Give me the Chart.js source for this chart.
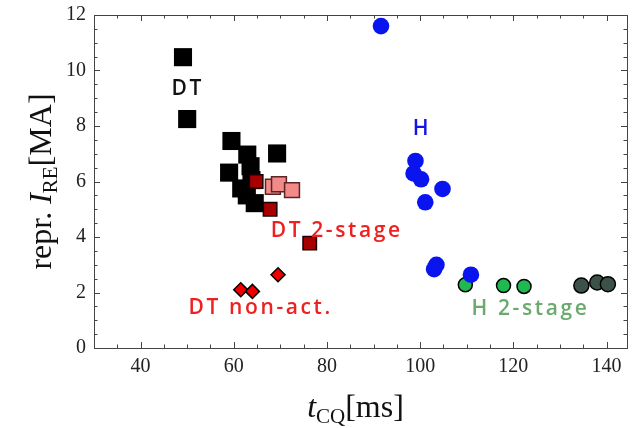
<!DOCTYPE html>
<html>
<head>
<meta charset="utf-8">
<script src="https://cdn.jsdelivr.net/npm/chart.js@4/dist/chart.umd.min.js"></script>
<style>
  html, body { margin: 0; padding: 0; background: #fff; }
  #wrap { width: 633px; height: 428px; }
</style>
</head>
<body>
<div id="wrap"><canvas id="c" width="633" height="428"></canvas></div>
<script>
// Current-quench time t_CQ [ms] vs. representative runaway current I_RE [MA]
const dtX = [49.1, 50.0, 59.5, 62.9, 63.6, 59.0, 63.8, 61.6, 62.8, 64.5, 69.3];
const dtY = [10.48, 8.25, 7.46, 6.97, 6.55, 6.32, 6.05, 5.75, 5.5, 5.22, 7.01];

const dt2X = [64.8, 67.8, 76.3];
const dt2Y = [6.0, 5.0, 3.78];

const dt2LightX = [68.4, 69.7, 72.5];
const dt2LightY = [5.81, 5.9, 5.69];

const dtNonX = [61.5, 64.0, 69.5];
const dtNonY = [2.1, 2.04, 2.64];

const hX = [91.6, 99.0, 98.6, 100.2, 104.8, 101.1, 103.5, 103.0, 110.9];
const hY = [11.6, 6.74, 6.29, 6.08, 5.73, 5.25, 3.0, 2.84, 2.64];

const h2X = [109.7, 117.9, 122.3];
const h2Y = [2.28, 2.25, 2.22];

const h2DarkX = [134.6, 138.0, 140.3];
const h2DarkY = [2.25, 2.36, 2.30];

const xTicks = [40, 60, 80, 100, 120, 140];
const yTicks = [0, 2, 4, 6, 8, 10, 12];

// Group labels placed in data coordinates
const groupLabels = [
  { text: 'DT',          x: 49.85, y: 9.35, color: '#111111' },
  { text: 'H',           x: 100.1, y: 7.9,  color: '#1414e6' },
  { text: 'DT 2-stage',  x: 81.8,  y: 4.22, color: '#ee2020' },
  { text: 'DT non-act.', x: 65.5,  y: 1.45, color: '#ee2020' },
  { text: 'H 2-stage',   x: 123.4, y: 1.41, color: '#6aaa6e' }
];

const pts = (xs, ys) => xs.map((x, i) => ({ x, y: ys[i] }));

const SERIF = '"Liberation Serif", "DejaVu Serif", serif';
const SANS = '"Open Sans", "Lato", sans-serif';

const framePlugin = {
  id: 'frameAndTitles',
  afterDraw(chart) {
    const ctx = chart.ctx;
    const a = chart.chartArea;
    const xs = chart.scales.x, ys = chart.scales.y;
    ctx.save();
    ctx.strokeStyle = '#444';
    ctx.lineWidth = 1;
    ctx.strokeRect(Math.round(a.left) + 0.5, Math.round(a.top) + 0.5,
                   Math.round(a.right - a.left), Math.round(a.bottom - a.top));
    // inward ticks on all four sides
    ctx.beginPath();
    for (let v = 35; v <= xs.max; v += 5) {
      const px = Math.round(xs.getPixelForValue(v)) + 0.5;
      const len = xTicks.includes(v) ? 6 : 3.5;
      ctx.moveTo(px, a.bottom); ctx.lineTo(px, a.bottom - len);
      ctx.moveTo(px, a.top); ctx.lineTo(px, a.top + len);
    }
    for (let v = 0.5; v < ys.max; v += 0.5) {
      const py = Math.round(ys.getPixelForValue(v)) + 0.5;
      const len = yTicks.includes(v) ? 6 : 3.5;
      ctx.moveTo(a.left, py); ctx.lineTo(a.left + len, py);
      ctx.moveTo(a.right, py); ctx.lineTo(a.right - len, py);
    }
    ctx.stroke();

    // group labels
    ctx.textAlign = 'center';
    ctx.textBaseline = 'middle';
    ctx.font = '600 21px ' + SANS;
    ctx.letterSpacing = '2.6px';
    groupLabels.forEach(l => {
      ctx.fillStyle = l.color;
      ctx.fillText(l.text, xs.getPixelForValue(l.x) + 1.3, ys.getPixelForValue(l.y));
    });
    ctx.letterSpacing = '0px';

    // axis titles with subscripts
    const drawRuns = (runs, cx, cy) => {
      let w = 0;
      runs.forEach(r => { ctx.font = r.font; w += ctx.measureText(r.t).width; });
      let x = cx - w / 2;
      ctx.textAlign = 'left';
      ctx.textBaseline = 'alphabetic';
      ctx.fillStyle = '#111';
      runs.forEach(r => {
        ctx.font = r.font;
        ctx.fillText(r.t, x, cy + (r.dy || 0));
        x += ctx.measureText(r.t).width;
      });
    };
    const big = '32px ' + SERIF, bigI = 'italic 32px ' + SERIF, sub = '21px ' + SERIF;
    drawRuns([
      { t: 't', font: bigI },
      { t: 'CQ', font: sub, dy: 6 },
      { t: '[ms]', font: big }
    ], (a.left + a.right) / 2 - 5, 417);

    ctx.translate(51, (a.top + a.bottom) / 2);
    ctx.rotate(-Math.PI / 2);
    drawRuns([
      { t: 'repr. ', font: big },
      { t: 'I', font: bigI },
      { t: 'RE', font: sub, dy: 6 },
      { t: '[MA]', font: big }
    ], 0, 0);
    ctx.restore();
  }
};

const noPad = s => { s.paddingLeft = 0; s.paddingRight = 0; s.paddingTop = 0; s.paddingBottom = 0; };

new Chart(document.getElementById('c'), {
  type: 'scatter',
  data: {
    datasets: [
      { label: 'DT 2-stage', data: pts(dt2X, dt2Y), pointStyle: 'rect', pointRadius: 9.5,
        backgroundColor: '#a80000', borderColor: '#1a0000', borderWidth: 1.5 },
      { label: 'DT 2-stage (b)', data: pts(dt2LightX, dt2LightY), pointStyle: 'rect', pointRadius: 10.5,
        backgroundColor: '#f28a8a', borderColor: '#5a2525', borderWidth: 1.5 },
      { label: 'DT', data: pts(dtX, dtY), pointStyle: 'rect', pointRadius: 12.8,
        backgroundColor: '#000000', borderColor: '#000000', borderWidth: 0 },
      { label: 'DT non-act.', data: pts(dtNonX, dtNonY), pointStyle: 'rectRot', pointRadius: 7,
        backgroundColor: '#ee0000', borderColor: '#000000', borderWidth: 1.5 },
      { label: 'H', data: pts(hX, hY), pointStyle: 'circle', pointRadius: 8.3,
        backgroundColor: '#0a14ee', borderColor: '#0a14ee', borderWidth: 0 },
      { label: 'H 2-stage', data: pts(h2X, h2Y), pointStyle: 'circle', pointRadius: 7,
        backgroundColor: '#20b850', borderColor: '#000000', borderWidth: 1.5 },
      { label: 'H 2-stage (b)', data: pts(h2DarkX, h2DarkY), pointStyle: 'circle', pointRadius: 7.5,
        backgroundColor: '#3c5248', borderColor: '#000000', borderWidth: 1.5 }
    ]
  },
  options: {
    responsive: false,
    animation: false,
    layout: { autoPadding: false, padding: { top: 15, right: 6, left: 0, bottom: 0 } },
    plugins: { legend: { display: false }, tooltip: { enabled: false } },
    elements: { point: { hoverRadius: 0 } },
    scales: {
      x: {
        type: 'linear', min: 30, max: 144.4,
        grid: { display: false, drawTicks: false }, border: { display: false },
        afterBuildTicks: s => { s.ticks = xTicks.map(v => ({ value: v })); },
        afterFit: s => { s.height = 80; noPad(s); },
        ticks: { padding: 7, color: '#222', font: { family: SERIF, size: 20 }, maxRotation: 0 }
      },
      y: {
        type: 'linear', min: 0, max: 12,
        grid: { display: false, drawTicks: false }, border: { display: false },
        afterBuildTicks: s => { s.ticks = yTicks.map(v => ({ value: v })); },
        afterFit: s => { s.width = 94; noPad(s); },
        ticks: { padding: 8, color: '#222', font: { family: SERIF, size: 20 } }
      }
    }
  },
  plugins: [framePlugin]
});
</script>
</body>
</html>
